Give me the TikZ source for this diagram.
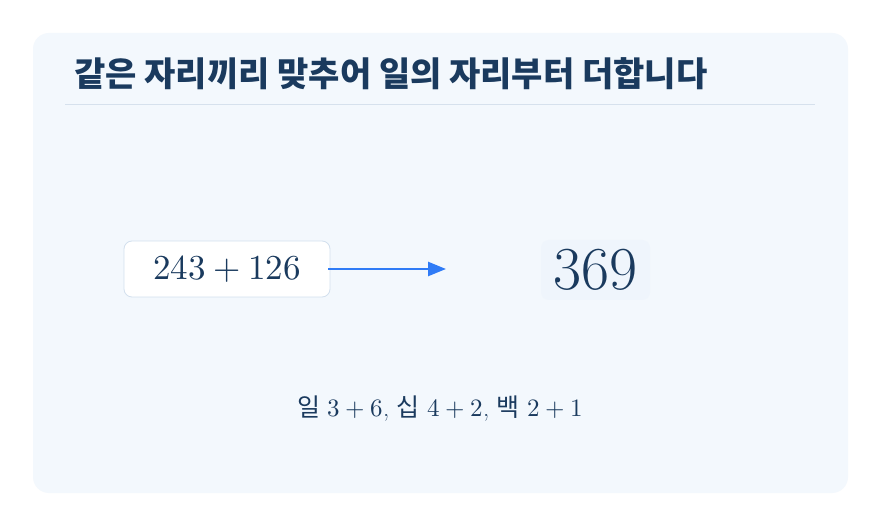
\documentclass[tikz,border=0pt]{standalone}
\usepackage{fontspec}
\usepackage{unicode-math}
\setmathfont{Latin Modern Math}
\newfontfamily\krfont{Noto Sans CJK KR}
\newfontfamily\lmbig{lmroman17-regular.otf}
\usetikzlibrary{arrows.meta}
\definecolor{panelbg}{HTML}{F3F8FD}
\definecolor{navy}{HTML}{1A3A5E}
\definecolor{rulec}{HTML}{D6E1ED}
\definecolor{boxline}{HTML}{D3E0EE}
\definecolor{resbg}{HTML}{EFF5FC}
\definecolor{arrowc}{HTML}{2F7BF6}
\tikzset{
  panel/.style={fill=panelbg, draw=none, rounded corners=16pt},
  titletext/.style={anchor=base west, inner sep=0pt, text=navy, font=\krfont\bfseries\fontsize{34}{40}\selectfont},
  exprbox/.style={draw=boxline, line width=0.8pt, fill=white, rounded corners=8pt, minimum width=206pt, minimum height=56pt, inner sep=0pt, text=navy, font=\fontsize{35}{40}\selectfont},
  resbox/.style={fill=resbg, draw=none, rounded corners=8pt, minimum width=109pt, minimum height=60pt, inner sep=0pt, text=navy, font=\lmbig\fontsize{61}{66}\selectfont},
  flow/.style={draw=arrowc, line width=2.5pt, -{Triangle[length=18pt,width=14pt]}},
  notetext/.style={anchor=base, inner sep=0pt, text=navy, font=\fontsize{25}{29}\selectfont}
}
\begin{document}
\begin{tikzpicture}[x=1pt,y=-1pt]
\useasboundingbox (0,0) rectangle (881,526);
\fill[white] (0,0) rectangle (881,526);
\path[panel] (33,33) rectangle (848,493);
\node[titletext] (title) at (74,87) {같은 자리끼리 맞추어 일의 자리부터 더합니다};
\coordinate (ruleL) at (65,104.5);
\coordinate (ruleR) at (815,104.5);
\draw[rulec, line width=0.8pt] (ruleL) -- (ruleR);
\node[exprbox] (expr) at (227,269) {$243+126$};
\node[resbox] (res) at (595.5,270) {369};
\coordinate (arrowend) at (446,269);
\draw[flow] ([xshift=-2pt]expr.east) -- (arrowend);
\node[notetext] (note) at (440,417) {{\krfont 일} $3+6$, {\krfont 십} $4+2$, {\krfont 백} $2+1$};
\end{tikzpicture}
\end{document}
